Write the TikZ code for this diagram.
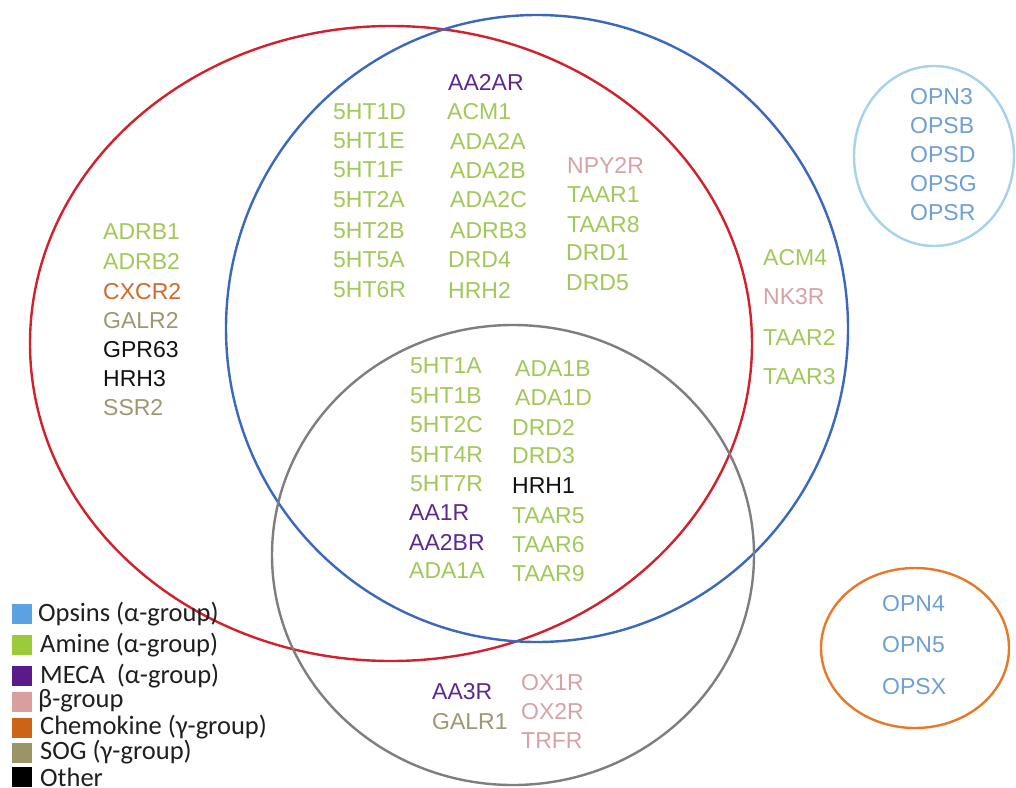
\documentclass[tikz,border=0pt]{standalone}
\usepackage{fontspec}
\setmainfont{Liberation Sans}
\newfontfamily\legendfont{Carlito}

% group colours
\definecolor{opsin}{HTML}{6E9FD6}
\definecolor{amine}{HTML}{A2C85A}
\definecolor{meca}{HTML}{5C2A8E}
\definecolor{beta}{HTML}{D6A2A6}
\definecolor{chemo}{HTML}{D06A2A}
\definecolor{sog}{HTML}{9C9872}
\definecolor{other}{HTML}{111111}
% legend swatch colours
\definecolor{sqopsin}{HTML}{5AA2E2}
\definecolor{sqamine}{HTML}{9CCB3A}
\definecolor{sqmeca}{HTML}{5A1A8A}
\definecolor{sqbeta}{HTML}{D8A09C}
\definecolor{sqchemo}{HTML}{CC6418}
\definecolor{sqsog}{HTML}{9A9466}
% set outlines
\definecolor{setred}{HTML}{D2202C}
\definecolor{setblue}{HTML}{3A68BC}
\definecolor{setgray}{HTML}{7E7E7E}
\definecolor{setsky}{HTML}{A6D2EA}
\definecolor{setorange}{HTML}{E8782A}

\begin{document}
\begin{tikzpicture}[x=1pt,y=-1pt,
  gene/.style={anchor=west, inner sep=0pt, font=\fontsize{23}{23}\selectfont},
  setline/.style={line width=2.4pt},
  swatch/.style={minimum width=20pt, minimum height=20pt, inner sep=0pt, anchor=center},
  legtext/.style={anchor=west, inner sep=0pt, text=black!88, font=\legendfont\fontsize{26.5}{26.5}\selectfont}]

\useasboundingbox (0,0) rectangle (1016,787);
\fill[white] (0,0) rectangle (1016,787);

% set outlines
\draw[setline, setred]    (391,343.5) ellipse [x radius=361, y radius=317.5];
\draw[setline, setblue]   (537,328.5) ellipse [x radius=311, y radius=313.5];
\draw[setline, setgray]   (513,555)   ellipse [x radius=241, y radius=230];
\draw[setline, setsky]    (934,156)   ellipse [x radius=80, y radius=90];
\draw[setline, setorange] (915,648)   ellipse [x radius=94, y radius=80];

% red only
\node[gene, text=amine] (adrb1) at (103,232) {ADRB1};
\node[gene, text=amine] (adrb2) at (103,261) {ADRB2};
\node[gene, text=chemo] (cxcr2) at (103,292) {CXCR2};
\node[gene, text=sog]   (galr2) at (103,321) {GALR2};
\node[gene, text=other] (gpr63) at (103,350) {GPR63};
\node[gene, text=other] (hrh3)  at (103,379) {HRH3};
\node[gene, text=sog]   (ssr2)  at (103,408) {SSR2};

% red and blue
\node[gene, text=amine] (ht1d) at (333,112) {5HT1D};
\node[gene, text=amine] (ht1e) at (333,141) {5HT1E};
\node[gene, text=amine] (ht1f) at (333,170) {5HT1F};
\node[gene, text=amine] (ht2a) at (333,200) {5HT2A};
\node[gene, text=amine] (ht2b) at (333,231) {5HT2B};
\node[gene, text=amine] (ht5a) at (333,260) {5HT5A};
\node[gene, text=amine] (ht6r) at (333,290) {5HT6R};

\node[gene, text=meca]  (aa2ar) at (448,82)  {AA2AR};
\node[gene, text=amine] (acm1)  at (447,112) {ACM1};
\node[gene, text=amine] (ada2a) at (450,141) {ADA2A};
\node[gene, text=amine] (ada2b) at (450,170) {ADA2B};
\node[gene, text=amine] (ada2c) at (450,200) {ADA2C};
\node[gene, text=amine] (adrb3) at (450,231) {ADRB3};
\node[gene, text=amine] (drd4)  at (448,260) {DRD4};
\node[gene, text=amine] (hrh2)  at (448,290) {HRH2};

\node[gene, text=beta]  (npy2r) at (567,165) {NPY2R};
\node[gene, text=amine] (taar1) at (567,195) {TAAR1};
\node[gene, text=amine] (taar8) at (567,225) {TAAR8};
\node[gene, text=amine] (drd1)  at (566,253) {DRD1};
\node[gene, text=amine] (drd5)  at (566,283) {DRD5};

% blue only
\node[gene, text=amine] (acm4)  at (763,258) {ACM4};
\node[gene, text=beta]  (nk3r)  at (763,297) {NK3R};
\node[gene, text=amine] (taar2) at (763,337) {TAAR2};
\node[gene, text=amine] (taar3) at (763,377) {TAAR3};

% red, blue and gray
\node[gene, text=amine] (ht1a)  at (410,366) {5HT1A};
\node[gene, text=amine] (ht1b)  at (410,396) {5HT1B};
\node[gene, text=amine] (ht2c)  at (410,425) {5HT2C};
\node[gene, text=amine] (ht4r)  at (410,455) {5HT4R};
\node[gene, text=amine] (ht7r)  at (410,484) {5HT7R};
\node[gene, text=meca]  (aa1r)  at (409,513) {AA1R};
\node[gene, text=meca]  (aa2br) at (409,542) {AA2BR};
\node[gene, text=amine] (ada1a) at (409,571) {ADA1A};

\node[gene, text=amine] (ada1b) at (515,369) {ADA1B};
\node[gene, text=amine] (ada1d) at (515,398) {ADA1D};
\node[gene, text=amine] (drd2)  at (512,427) {DRD2};
\node[gene, text=amine] (drd3)  at (512,456) {DRD3};
\node[gene, text=other] (hrh1)  at (512,486) {HRH1};
\node[gene, text=amine] (taar5) at (512,516) {TAAR5};
\node[gene, text=amine] (taar6) at (512,545) {TAAR6};
\node[gene, text=amine] (taar9) at (512,574) {TAAR9};

% gray only
\node[gene, text=meca]  (aa3r)  at (432,692) {AA3R};
\node[gene, text=sog]   (galr1) at (432,722) {GALR1};
\node[gene, text=beta]  (ox1r)  at (521,683) {OX1R};
\node[gene, text=beta]  (ox2r)  at (521,712) {OX2R};
\node[gene, text=beta]  (trfr)  at (521,741) {TRFR};

% opsin sets
\node[gene, text=opsin] (opn3) at (910,97)  {OPN3};
\node[gene, text=opsin] (opsb) at (910,126) {OPSB};
\node[gene, text=opsin] (opsd) at (910,155) {OPSD};
\node[gene, text=opsin] (opsg) at (910,184) {OPSG};
\node[gene, text=opsin] (opsr) at (910,213) {OPSR};

\node[gene, text=opsin] (opn4) at (882,604) {OPN4};
\node[gene, text=opsin] (opn5) at (882,645) {OPN5};
\node[gene, text=opsin] (opsx) at (882,687) {OPSX};

% legend
\node[swatch, fill=sqopsin] (lg1) at (22,614) {};
\node[swatch, fill=sqamine] (lg2) at (22,645) {};
\node[swatch, fill=sqmeca]  (lg3) at (22,676) {};
\node[swatch, fill=sqbeta]  (lg4) at (22,702) {};
\node[swatch, fill=sqchemo] (lg5) at (22,728) {};
\node[swatch, fill=sqsog]   (lg6) at (22,753) {};
\node[swatch, fill=black]   (lg7) at (22,777) {};
\node[legtext] (lt1) at (38,614) {Opsins (α-group)};
\node[legtext] (lt2) at (40,645) {Amine (α-group)};
\node[legtext] (lt3) at (40,676) {MECA\ \ (α-group)};
\node[legtext] (lt4) at (38,701) {β-group};
\node[legtext] (lt5) at (40,727) {Chemokine (γ-group)};
\node[legtext] (lt6) at (40,752) {SOG (γ-group)};
\node[legtext] (lt7) at (40,777) {Other};
\end{tikzpicture}
\end{document}
